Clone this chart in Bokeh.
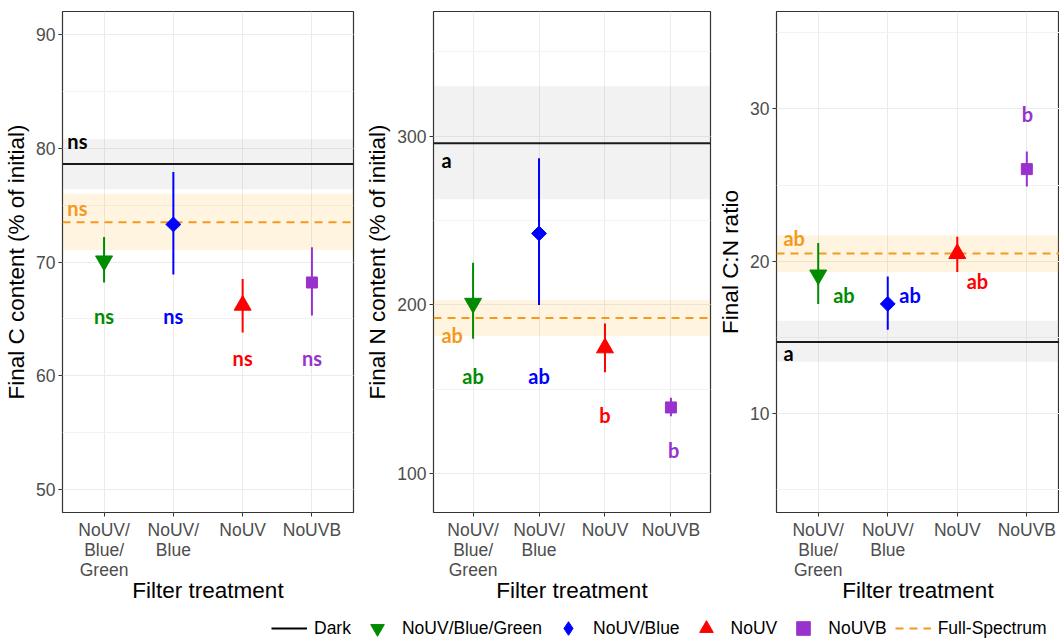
import math
from bokeh.plotting import figure
from bokeh.layouts import row, column
from bokeh.models import (ColumnDataSource, Range1d, FixedTicker, SingleIntervalTicker,
                          BoxAnnotation, Span, Legend, LegendItem)
from bokeh.core.properties import value
from bokeh.embed import file_html
from bokeh.resources import INLINE

# ---------------- data ----------------
treatments = ["NoUV/Blue/Green", "NoUV/Blue", "NoUV", "NoUVB"]
tick_labels = ["NoUV/\nBlue/\nGreen", "NoUV/\nBlue", "NoUV", "NoUVB"]
x_pos = [1, 2, 3, 4]
colors = ["#008B00", "#0000FF", "#FF0000", "#9932CC"]
markers = ["inverted_triangle", "square", "triangle", "square"]
legend_markers = ["inverted_triangle", "diamond", "triangle", "square"]
marker_angles = [0, math.pi / 4, 0, 0]
marker_sizes = [17, 10.5, 17, 11]
ORANGE = "#F39A1E"

# Final C content (% of initial)
c_mean = [70.1, 73.3, 66.2, 68.2]
c_lo = [68.2, 68.9, 63.8, 65.3]
c_hi = [72.2, 77.9, 68.5, 71.3]
c_dark = [78.6, 76.4, 80.8]          # mean, low, high
c_full = [73.5, 71.05, 76.0]
c_letters = ["ns", "ns", "ns", "ns"]
c_letter_x = [1, 2, 3, 4]
c_letter_y = [65.3, 65.3, 61.6, 61.6]
c_dark_letter = ["ns", 80.6]
c_full_letter = ["ns", 74.7]

# Final N content (% of initial)
n_mean = [201, 242.4, 174.5, 139.2]
n_lo = [180, 200, 160, 134]
n_hi = [225, 287, 189, 145]
n_dark = [295.8, 262.6, 329.7]
n_full = [192.3, 181.6, 202.9]
n_letters = ["ab", "ab", "b", "b"]
n_letter_x = [1, 2, 3, 4.04]
n_letter_y = [158, 158, 135, 113.7]
n_dark_letter = ["a", 286]
n_full_letter = ["ab", 182]

# Final C:N ratio
cn_mean = [19.1, 17.2, 20.5, 26.05]
cn_lo = [17.2, 15.5, 19.3, 24.9]
cn_hi = [21.2, 19.0, 21.6, 27.2]
cn_dark = [14.7, 13.4, 16.1]
cn_full = [20.5, 19.3, 21.7]
cn_letters = ["ab", "ab", "ab", "b"]
cn_letter_x = [1.37, 2.32, 3.29, 4.01]
cn_letter_y = [17.8, 17.8, 18.7, 29.7]
cn_dark_letter = ["a", 13.95]
cn_full_letter = ["ab", 21.5]

TICK_FONT = "Liberation Sans"
LETTER_FONT = "Lato"


def panel(ylabel, y_range, interval, mean, lo, hi, dark, full, letters, lx, ly,
          dark_letter, full_letter, width, left, right, ref_x):
    p = figure(width=width, height=612, x_range=Range1d(0.4, 4.6),
               y_range=Range1d(*y_range), output_backend="svg", toolbar_location=None,
               min_border_left=left, min_border_right=right, min_border_top=11,
               min_border_bottom=100)
    p.background_fill_color = "white"
    p.border_fill_color = "white"
    p.outline_line_color = "#333333"
    p.outline_line_width = 1.2

    p.xaxis.ticker = FixedTicker(ticks=x_pos)
    p.xaxis.major_label_overrides = {x: t for x, t in zip(x_pos, tick_labels)}
    p.yaxis.ticker = SingleIntervalTicker(interval=interval, num_minor_ticks=2)
    p.xgrid.grid_line_color = "#EBEBEB"
    p.xgrid.grid_line_width = 1
    p.ygrid.grid_line_color = "#EBEBEB"
    p.ygrid.grid_line_width = 1
    p.ygrid.minor_grid_line_color = "#F2F2F2"
    p.ygrid.minor_grid_line_width = 1

    for ax in (p.xaxis, p.yaxis):
        ax.axis_line_color = None
        ax.major_tick_line_color = "#333333"
        ax.major_tick_line_width = 1
        ax.major_tick_out = 4
        ax.major_tick_in = 0
        ax.minor_tick_line_color = None
        ax.major_label_text_font = TICK_FONT
        ax.major_label_text_font_size = "17.5px"
        ax.major_label_text_color = "#4D4D4D"
        ax.major_label_standoff = 3
        ax.axis_label_text_font = TICK_FONT
        ax.axis_label_text_font_style = "normal"
        ax.axis_label_text_color = "black"
        ax.axis_label_text_font_size = "22.5px"
    p.xaxis.major_label_text_line_height = 1.0
    p.xaxis.axis_label = "Filter treatment"
    p.yaxis.axis_label = ylabel
    p.xaxis.axis_label_standoff = -5
    p.yaxis.axis_label_standoff = 4

    # reference bands and lines
    p.add_layout(BoxAnnotation(bottom=dark[1], top=dark[2], fill_color="#7F7F7F",
                               fill_alpha=0.1, line_color=None, level="underlay"))
    p.add_layout(BoxAnnotation(bottom=full[1], top=full[2], fill_color="#FFA500",
                               fill_alpha=0.12, line_color=None, level="underlay"))
    p.add_layout(Span(location=dark[0], dimension="width", line_color="#1A1A1A",
                      line_width=2, level="underlay"))
    p.add_layout(Span(location=full[0], dimension="width", line_color=ORANGE,
                      line_width=2, line_dash="8 6", level="underlay"))

    src = ColumnDataSource(dict(x=x_pos, mean=mean, lo=lo, hi=hi, color=colors,
                                marker=markers, angle=marker_angles, size=marker_sizes))
    p.segment(x0="x", y0="lo", x1="x", y1="hi", line_color="color", line_width=2, source=src)
    p.scatter(x="x", y="mean", marker="marker", angle="angle", size="size",
              fill_color="color", line_color="color", line_width=1, source=src)

    lsrc = ColumnDataSource(dict(x=lx, y=ly, text=letters, color=colors))
    p.text(x="x", y="y", text="text", text_color="color", source=lsrc,
           text_font=value(LETTER_FONT), text_font_style="bold", text_font_size="20px",
           text_align="center", text_baseline="middle")
    rsrc = ColumnDataSource(dict(x=[ref_x, ref_x], y=[dark_letter[1], full_letter[1]],
                                 text=[dark_letter[0], full_letter[0]],
                                 color=["black", ORANGE]))
    p.text(x="x", y="y", text="text", text_color="color", source=rsrc,
           text_font=value(LETTER_FONT), text_font_style="bold", text_font_size="20px",
           text_align="left", text_baseline="middle")
    return p


p1 = panel("Final C content (% of initial)", (48.0, 92.0), 10, c_mean, c_lo, c_hi,
           c_dark, c_full, c_letters, c_letter_x, c_letter_y, c_dark_letter, c_full_letter,
           width=362, left=62, right=9, ref_x=0.47)
p2 = panel("Final N content (% of initial)", (76.9, 374.0), 100, n_mean, n_lo, n_hi,
           n_dark, n_full, n_letters, n_letter_x, n_letter_y, n_dark_letter, n_full_letter,
           width=352, left=67, right=4, ref_x=0.52)
p3 = panel("Final C:N ratio", (3.5, 36.4), 10, cn_mean, cn_lo, cn_hi,
           cn_dark, cn_full, cn_letters, cn_letter_x, cn_letter_y, cn_dark_letter, cn_full_letter,
           width=345, left=62, right=0, ref_x=0.5)
p3.x_range = Range1d(0.4, 4.47)

# ---------------- legend strip ----------------
lg = figure(width=1059, height=26, x_range=Range1d(0, 1), y_range=Range1d(0, 1),
            output_backend="svg", toolbar_location=None, min_border=0)
lg.axis.visible = False
lg.grid.visible = False
lg.outline_line_color = None
# one off-canvas key point per renderer, so that the legend has something to draw
key_x = [-10.0]
key_y = [-10.0]
items = []
r = lg.line(x=key_x, y=key_y, line_color="black", line_width=2)
items.append(LegendItem(label="Dark", renderers=[r]))
for t, c, m in zip(treatments, colors, legend_markers):
    rs = lg.scatter(x=key_x, y=key_y, marker=m, fill_color=c, line_color=c)
    items.append(LegendItem(label=t, renderers=[rs]))
r = lg.line(x=key_x, y=key_y, line_color=ORANGE, line_width=2, line_dash="8 6")
items.append(LegendItem(label="Full-Spectrum", renderers=[r]))
leg = Legend(items=items, orientation="horizontal", location=(271, -7),
             glyph_width=36, glyph_height=34, label_standoff=7, spacing=8,
             padding=0, margin=0, border_line_color=None, background_fill_alpha=0,
             label_text_font=TICK_FONT, label_text_font_size="17.5px",
             label_text_color="black")
lg.add_layout(leg, "center")

layout = column(row(p1, p2, p3), lg)
open("out.html", "w").write(file_html(layout, INLINE))
